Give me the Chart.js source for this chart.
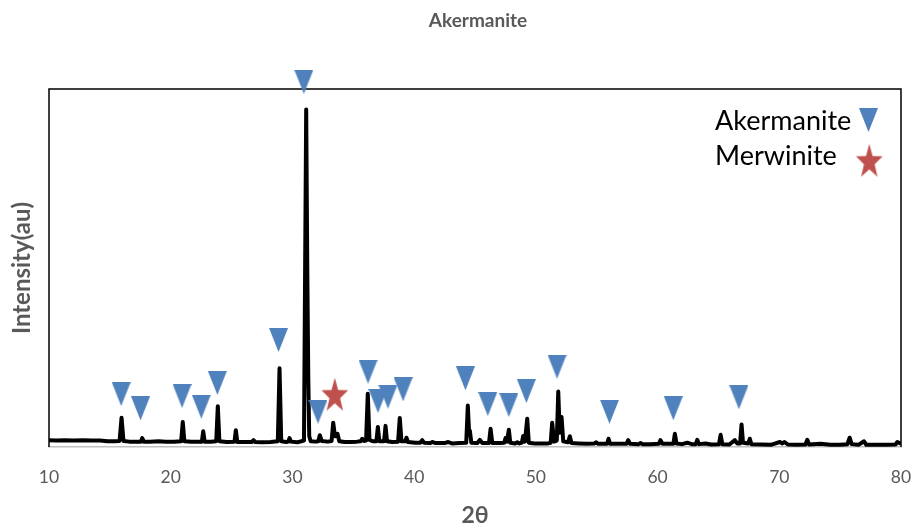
<!DOCTYPE html>
<html>
<head>
<meta charset="utf-8">
<script src="https://cdn.jsdelivr.net/npm/chart.js@4.4.1/dist/chart.umd.min.js"></script>
<style>
  body { margin: 0; background: #fff; }
  #wrap { width: 914px; height: 529px; position: relative; }
</style>
</head>
<body>
<div id="wrap"><canvas id="xrd_chart"></canvas></div>
<script>
// XRD trace, 2theta vs intensity (arbitrary units)
var twoTheta = [
  10.0, 10.6, 11.3, 12.0, 12.8, 13.5, 14.2, 14.8, 15.4, 15.8, 15.96, 16.12, 16.6, 17.2, 17.55, 17.66, 17.78,
  18.3, 19.0, 19.6, 20.3, 20.86, 20.99, 21.12, 21.7, 22.2, 22.56, 22.67, 22.79, 23.3, 23.74, 23.87, 24.0,
  24.6, 25.24, 25.35, 25.47, 26.1, 26.65, 26.8, 26.95, 27.5, 28.2, 28.8, 28.94, 29.08, 29.5, 29.66, 29.76,
  29.88, 30.4, 30.95, 31.13, 31.22, 31.3, 31.38, 31.5, 31.9, 32.13, 32.25, 32.4, 32.9, 33.22, 33.35, 33.5,
  33.7, 33.85, 34.3, 34.8, 35.3, 35.6, 35.73, 35.86, 36.05, 36.19, 36.33, 36.6, 36.9, 37.02, 37.14, 37.53,
  37.65, 37.77, 38.2, 38.68, 38.82, 38.96, 39.27, 39.37, 39.5, 40.1, 40.5, 40.66, 40.82, 41.3, 41.53, 41.75,
  42.5, 42.8, 43.1, 43.7, 44.28, 44.41, 44.5, 44.58, 44.7, 45.2, 45.4, 45.6, 46.15, 46.28, 46.42, 47.0,
  47.4, 47.51, 47.62, 47.78, 47.9, 48.3, 48.47, 48.65, 48.85, 48.96, 49.1, 49.29, 49.42, 49.9, 50.5, 51.0,
  51.22, 51.34, 51.5, 51.72, 51.84, 51.96, 52.11, 52.25, 52.65, 52.79, 52.93, 53.5, 54.2, 54.8, 54.96, 55.12,
  55.85, 55.97, 56.1, 56.8, 57.45, 57.59, 57.73, 58.45, 58.6, 58.75, 59.4, 60.1, 60.24, 60.4, 61.0, 61.3,
  61.42, 61.55, 62.0, 62.44, 62.8, 63.14, 63.26, 63.4, 63.94, 64.4, 65.05, 65.18, 65.32, 65.9, 66.35, 66.55,
  66.78, 66.9, 67.02, 67.45, 67.58, 67.7, 68.5, 69.3, 70.05, 70.25, 70.43, 70.7, 71.5, 72.15, 72.3, 72.45,
  73.4, 74.2, 75.0, 75.6, 75.78, 75.95, 76.5, 76.96, 77.15, 78.0, 78.8, 79.55, 79.7, 80.0
];
var intensity = [
  1.9, 1.8, 1.9, 1.8, 1.9, 1.8, 1.8, 1.6, 1.6, 1.7, 8.2, 1.7, 1.5, 1.5, 1.5, 2.5, 1.5,
  1.5, 1.6, 1.5, 1.5, 1.6, 7.0, 1.6, 1.5, 1.5, 1.5, 4.4, 1.5, 1.5, 1.6, 11.4, 1.6,
  1.4, 1.5, 4.7, 1.4, 1.4, 1.4, 1.9, 1.4, 1.3, 1.4, 1.6, 22.0, 1.6, 1.4, 1.5, 2.5,
  1.5, 1.3, 1.8, 94.3, 50, 20, 3.0, 1.6, 1.5, 1.6, 3.3, 1.7, 1.5, 1.7, 6.8, 3.0,
  3.7, 1.6, 1.4, 1.4, 1.5, 1.6, 2.3, 1.7, 1.8, 14.9, 2.0, 1.6, 1.6, 5.6, 1.6, 1.6,
  5.9, 1.6, 1.4, 1.5, 8.1, 1.6, 1.6, 2.6, 1.4, 1.2, 1.2, 1.9, 1.2, 1.1, 1.4, 1.1,
  1.1, 1.4, 1.0, 1.1, 1.2, 11.6, 5.0, 4.5, 1.2, 1.1, 2.0, 1.1, 1.1, 5.1, 1.1, 1.1,
  1.2, 2.5, 1.5, 4.8, 1.2, 1.0, 1.3, 1.0, 1.2, 3.1, 1.5, 7.9, 1.2, 1.0, 1.0, 1.0,
  1.2, 6.8, 1.5, 1.8, 15.5, 4.0, 8.4, 1.6, 1.3, 3.0, 1.1, 1.0, 0.9, 1.0, 1.3, 0.9,
  0.9, 2.3, 0.9, 0.9, 0.9, 1.9, 0.9, 0.8, 1.1, 0.8, 0.8, 0.9, 1.9, 0.9, 0.9, 0.9,
  3.7, 1.0, 0.8, 1.2, 0.8, 0.8, 2.0, 0.8, 1.0, 0.7, 0.8, 3.4, 0.8, 0.7, 1.9, 1.0,
  1.0, 6.3, 1.2, 1.0, 2.3, 0.8, 0.7, 0.6, 1.4, 1.0, 1.4, 0.7, 0.6, 0.7, 2.0, 0.7,
  0.9, 0.6, 0.6, 0.8, 2.6, 0.8, 0.6, 1.6, 0.6, 0.6, 0.6, 0.7, 1.4, 0.9
];

// phase markers
var akermaniteX = [15.93, 17.52, 20.93, 22.51, 23.83, 28.86, 30.94, 32.1, 36.21, 37.03,
                   37.85, 39.09, 44.21, 46.05, 47.78, 49.22, 51.74, 56.05, 61.29, 66.68];
var akermaniteY = [14.8, 10.8, 14.25, 11.26, 17.88, 29.9, 102.0, 9.86, 21.03, 12.85,
                   14.05, 16.1, 19.2, 12.0, 11.73, 15.64, 22.43, 9.86, 10.81, 13.88];
var merwiniteX = [33.48];
var merwiniteY = [14.6];

var xMin = 10, xMax = 80, xStep = 10;

var BLUE = '#4F81BD';
var RED = '#C0504D';
var GREY = '#595959';

function make_triangle() {
  var c = document.createElement('canvas');
  c.width = 19; c.height = 24;
  var g = c.getContext('2d');
  g.fillStyle = BLUE;
  g.beginPath();
  g.moveTo(0, 0);
  g.lineTo(19, 0);
  g.lineTo(9.5, 24);
  g.closePath();
  g.fill();
  return c;
}

function make_star() {
  var c = document.createElement('canvas');
  c.width = 28; c.height = 34;
  var g = c.getContext('2d');
  var rx = 14, ry = 18.2, cx = 14, cy = 18.2, inner = 0.4;
  g.fillStyle = RED;
  g.beginPath();
  for (var i = 0; i < 10; i++) {
    var a = -Math.PI / 2 + i * Math.PI / 5;
    var k = (i % 2 == 0) ? 1 : inner;
    var px = cx + Math.cos(a) * rx * k;
    var py = cy + Math.sin(a) * ry * k;
    if (i == 0) g.moveTo(px, py); else g.lineTo(px, py);
  }
  g.closePath();
  g.fill();
  return c;
}

var triangle_img = make_triangle();
var star_img = make_star();

function to_points(xs, ys) {
  return xs.map(function (x, i) { return { x: x, y: ys[i] }; });
}

// frame, title and the hand-placed legend
var decor_plugin = {
  id: 'decor',
  beforeDatasetsDraw: function (chart) {
    var ctx = chart.ctx, a = chart.chartArea;
    ctx.save();
    ctx.strokeStyle = '#000';
    ctx.lineWidth = 1.5;
    ctx.beginPath();
    ctx.moveTo(a.left, a.bottom);
    ctx.lineTo(a.left, a.top);
    ctx.lineTo(a.right, a.top);
    ctx.lineTo(a.right, a.bottom);
    ctx.stroke();
    ctx.restore();
  },
  afterDraw: function (chart) {
    var ctx = chart.ctx;
    ctx.save();
    ctx.fillStyle = GREY;
    ctx.font = 'bold 19px Lato';
    ctx.textAlign = 'center';
    ctx.textBaseline = 'middle';
    ctx.fillText('Akermanite', 478, 21);

    ctx.fillStyle = '#000';
    ctx.font = '27px Lato';
    ctx.textAlign = 'left';
    ctx.textBaseline = 'alphabetic';
    ctx.fillText('Akermanite', 715, 129.5);
    ctx.fillText('Merwinite', 715, 165);
    ctx.drawImage(triangle_img, 868.5 - 9.5, 120 - 12);
    ctx.drawImage(star_img, 869.3 - 14, 160.8 - 17);
    ctx.restore();
  }
};

var xrd_chart = new Chart(document.getElementById('xrd_chart').getContext('2d'), {
  type: 'line',
  data: {
    datasets: [{
      label: 'XRD',
      data: to_points(twoTheta, intensity),
      borderColor: '#000',
      borderWidth: 4,
      borderJoinStyle: 'round',
      pointRadius: 0,
      tension: 0,
      order: 2
    }, {
      label: 'Akermanite',
      data: to_points(akermaniteX, akermaniteY),
      showLine: false,
      pointStyle: triangle_img,
      pointRadius: 12,
      pointHoverRadius: 12,
      pointBorderWidth: 0,
      clip: false,
      order: 1
    }, {
      label: 'Merwinite',
      data: to_points(merwiniteX, merwiniteY),
      showLine: false,
      pointStyle: star_img,
      pointRadius: 12,
      pointHoverRadius: 12,
      pointBorderWidth: 0,
      clip: false,
      order: 1
    }]
  },
  options: {
    responsive: true,
    maintainAspectRatio: false,
    animation: false,
    events: [],
    layout: { padding: { top: 89, right: 13, left: 0, bottom: 0 } },
    plugins: {
      legend: { display: false },
      title: { display: false },
      tooltip: { enabled: false }
    },
    scales: {
      x: {
        type: 'linear',
        min: xMin,
        max: xMax,
        grid: { display: false, drawTicks: false },
        border: { display: true, color: '#BFBFBF', width: 1.5 },
        ticks: {
          stepSize: xStep,
          color: GREY,
          font: { family: 'Lato', size: 17.5 },
          padding: 20,
          maxRotation: 0
        },
        title: {
          display: true,
          text: '2θ',
          color: GREY,
          font: { family: 'Lato', size: 23, weight: 'bold' },
          padding: { top: 0, bottom: 0 }
        },
        afterFit: function (scale) {
          scale.height = 82;
          scale.paddingLeft = 0;
          scale.paddingRight = 0;
        }
      },
      y: {
        min: 0,
        max: 100,
        grid: { display: false, drawTicks: false },
        border: { display: false },
        ticks: { display: false },
        title: {
          display: true,
          text: 'Intensity(au)',
          color: GREY,
          font: { family: 'Lato', size: 24, weight: 'bold' },
          padding: { top: 8, bottom: 0 }
        },
        afterFit: function (scale) {
          scale.width = 49;
          scale.paddingTop = 0;
          scale.paddingBottom = 0;
        }
      }
    }
  },
  plugins: [decor_plugin]
});
</script>
</body>
</html>
